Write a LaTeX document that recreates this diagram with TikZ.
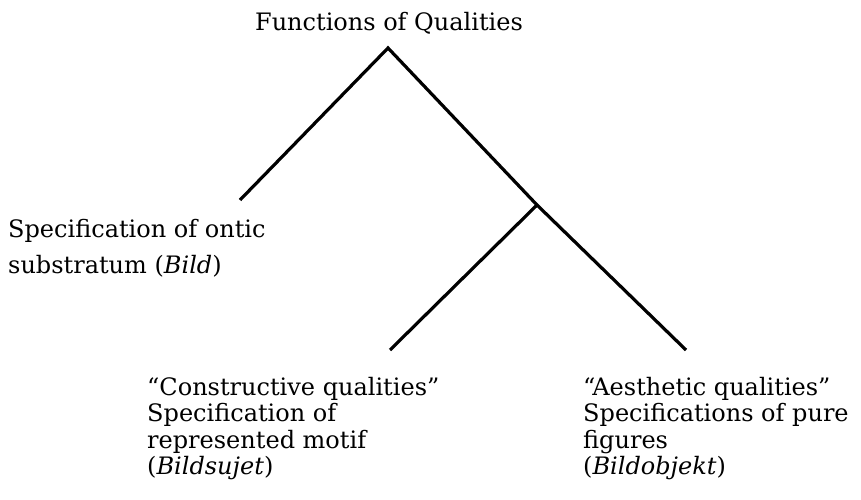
\documentclass[tikz,border=0pt]{standalone}
\usepackage{fontspec}
\setmainfont{DejaVu Serif}
\tikzset{
  fq text/.style={font=\fontsize{24}{26.5}\selectfont,align=left,
    inner sep=0pt,anchor=north west},
  fq branch/.style={black,line width=3.2pt}
}

\begin{document}
\begin{tikzpicture}[x=1pt,y=-1pt]
  \useasboundingbox (0,0) rectangle (861,500);
  \node[fq text,anchor=north] (title) at (389,12) {Functions of Qualities};
  \node[fq text] (ontic) at (8,219) {Specification of ontic\\[10pt]
    substratum (\textit{Bild})};
  \node[fq text] (motif) at (147,377) {“Constructive qualities”\\
    Specification of\\ represented motif\\ (\textit{Bildsujet})};
  \node[fq text] (pure) at (583,377) {“Aesthetic qualities”\\
    Specifications of pure\\ figures\\ (\textit{Bildobjekt})};
  \coordinate (top) at (388,48);
  \coordinate (ontic end) at (240,200);
  \coordinate (fork) at (537,205);
  \coordinate (motif end) at (390,350);
  \coordinate (pure end) at (686,350);
  \draw[fq branch] (ontic end)--(top)--(fork)--(pure end)
    (fork)--(motif end);
\end{tikzpicture}
\end{document}
